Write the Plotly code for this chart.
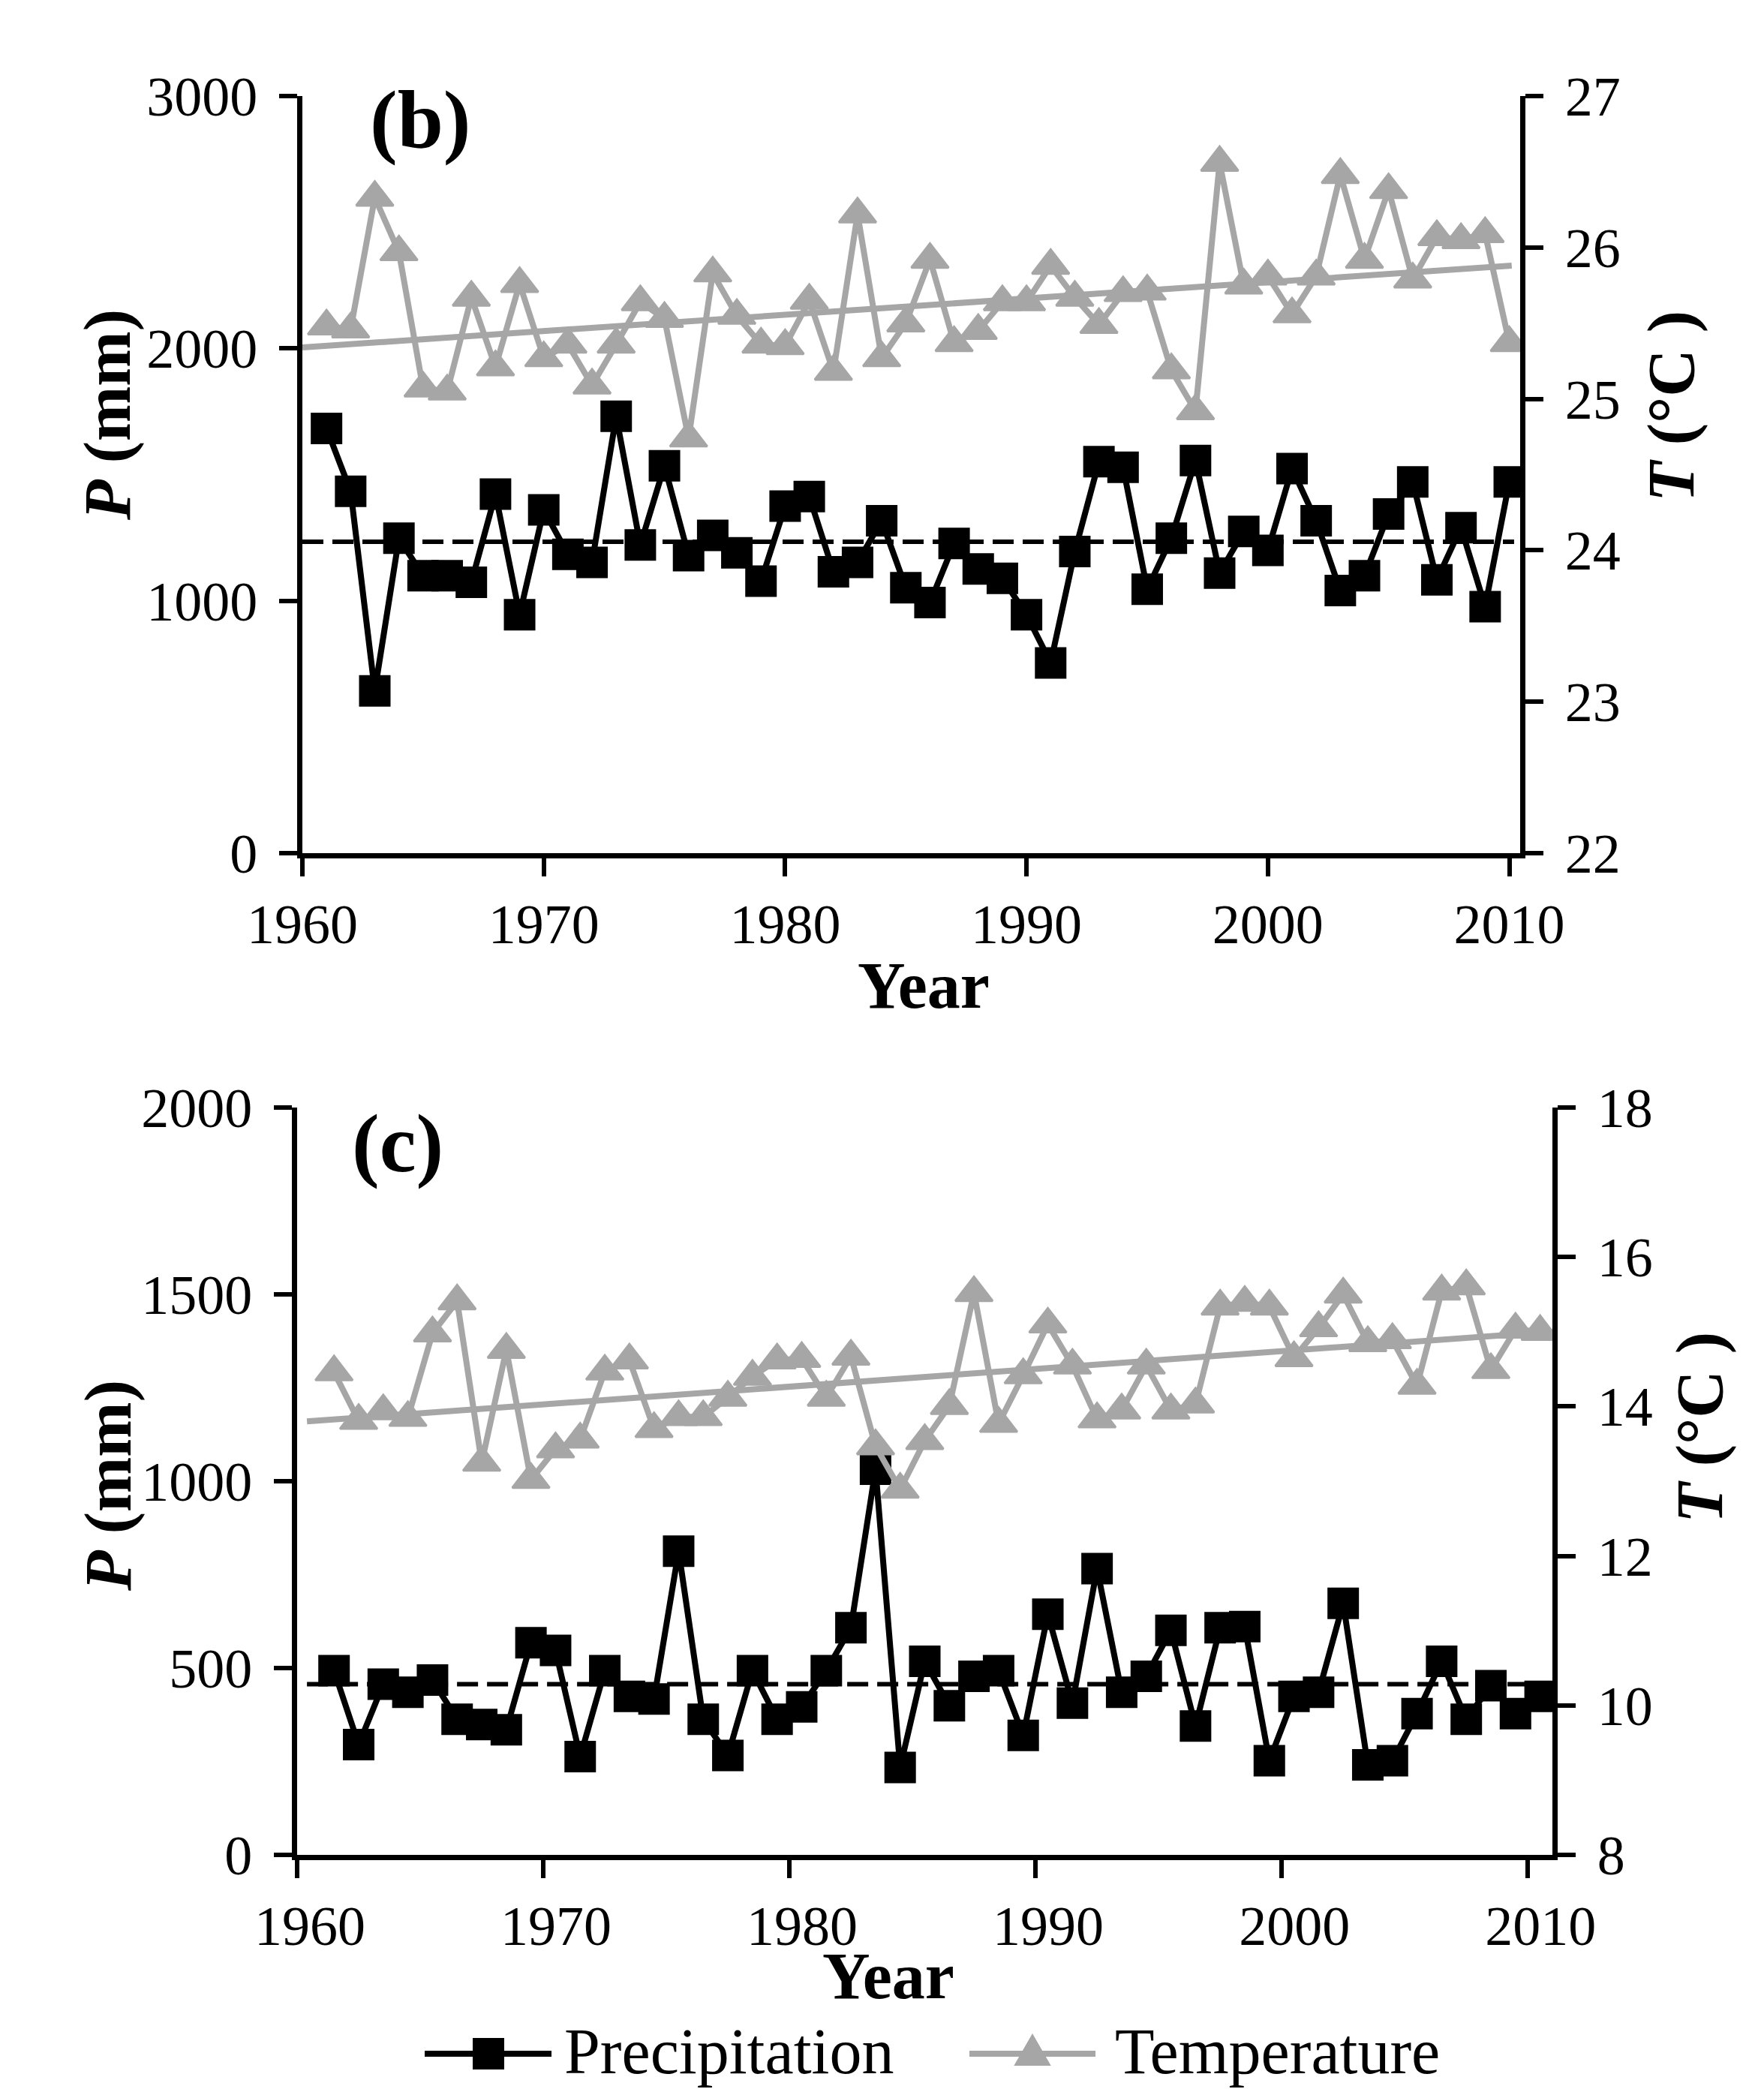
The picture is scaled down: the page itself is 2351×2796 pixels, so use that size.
"""Annual precipitation and temperature, panels (b) and (c)."""

import plotly.graph_objects as go

W, H = 2351, 2796
FONT = "Liberation Serif"
GRAY = "#A6A6A6"

years = list(range(1961, 2011))
tick_years = [1960, 1970, 1980, 1990, 2000, 2010]
tick_text = [str(y) for y in tick_years]

# panel (b)
precip_b = [
    1683, 1434, 643, 1248, 1099, 1099, 1073, 1423, 945, 1360,
    1184, 1152, 1731, 1221, 1535, 1179, 1259, 1190, 1078, 1375,
    1413, 1115, 1152, 1317, 1052, 993, 1227, 1126, 1089, 945,
    754, 1195, 1551, 1529, 1046, 1248, 1556, 1110, 1275, 1200,
    1524, 1317, 1041, 1099, 1344, 1471, 1083, 1290, 977, 1471,
]
temp_b = [
    25.48, 25.46, 26.33, 25.97, 25.07, 25.05, 25.67, 25.21, 25.76, 25.27,
    25.36, 25.09, 25.36, 25.64, 25.53, 24.74, 25.83, 25.55, 25.36, 25.35,
    25.65, 25.18, 26.22, 25.27, 25.50, 25.92, 25.37, 25.45, 25.64, 25.64,
    25.88, 25.67, 25.49, 25.70, 25.71, 25.19, 24.92, 26.56, 25.75, 25.81,
    25.56, 25.81, 26.48, 25.92, 26.38, 25.79, 26.07, 26.05, 26.09, 25.37,
]
mean_b_x = [1960, 2010.2]
mean_b = [1234, 1234]
trend_b_x = [1960, 2010.1]
trend_b = [25.34, 25.88]

# panel (c): points sit half a year right of the labelled ticks
precip_c = [
    493, 295, 457, 435, 468, 363, 349, 335, 568, 547,
    263, 493, 424, 417, 813, 363, 266, 493, 363, 396,
    493, 608, 1032, 234, 518, 399, 478, 493, 320, 644,
    406, 766, 435, 478, 601, 345, 608, 611, 252, 424,
    435, 673, 241, 252, 378, 518, 363, 453, 378, 424,
]
temp_c = [
    14.46, 13.81, 13.94, 13.85, 14.98, 15.41, 13.25, 14.76, 13.02, 13.43,
    13.56, 14.47, 14.62, 13.70, 13.86, 13.86, 14.12, 14.40, 14.62, 14.64,
    14.12, 14.67, 13.47, 12.89, 13.54, 14.01, 15.52, 13.77, 14.42, 15.10,
    14.55, 13.83, 13.95, 14.55, 13.95, 14.03, 15.34, 15.39, 15.34, 14.65,
    15.05, 15.50, 14.85, 14.89, 14.28, 15.54, 15.61, 14.49, 15.03, 15.00,
]
tick_pos_c = [1959.5, 1969.5, 1979.5, 1989.5, 1999.5, 2009.5]
mean_c_x = [1959.9, 2010.5]
mean_c = [457, 457]
trend_c_x = [1959.9, 2010.5]
trend_c = [13.80, 15.00]


def fx(px):
    return px / W


def fy(py):
    return 1 - py / H


fig = go.Figure()

panels = [
    ("x", "y", "y2", precip_b, temp_b, mean_b_x, mean_b, trend_b_x, trend_b),
    ("x2", "y3", "y4", precip_c, temp_c, mean_c_x, mean_c, trend_c_x, trend_c),
]
for xa, ya, ya_t, pr, tp, mx, mv, tx, tv in panels:
    fig.add_trace(go.Scatter(
        x=tx, y=tv, xaxis=xa, yaxis=ya_t, mode="lines",
        line=dict(color=GRAY, width=8), showlegend=False, hoverinfo="skip",
    ))
    fig.add_trace(go.Scatter(
        x=years, y=tp, xaxis=xa, yaxis=ya_t, mode="lines+markers", name="Temperature",
        line=dict(color=GRAY, width=8),
        marker=dict(symbol="triangle-up", size=43, color=GRAY, line=dict(color=GRAY, width=3)),
        showlegend=False,
    ))
    fig.add_trace(go.Scatter(
        x=mx, y=mv, xaxis=xa, yaxis=ya, mode="lines",
        line=dict(color="black", width=6, dash="28px,12px"), showlegend=False, hoverinfo="skip",
    ))
    fig.add_trace(go.Scatter(
        x=years, y=pr, xaxis=xa, yaxis=ya, mode="lines+markers", name="Precipitation",
        line=dict(color="black", width=8),
        marker=dict(symbol="square", size=42, color="black"),
        showlegend=False,
    ))

tick_font = dict(family=FONT, size=74, color="black")
axis_common = dict(
    showline=True, linecolor="black", linewidth=7, ticks="outside", ticklen=24,
    tickwidth=6, tickcolor="black", showgrid=False, zeroline=False, tickfont=tick_font,
)
y_common = dict(ticklabelstandoff=14, **axis_common)
x_common = dict(ticklabelstandoff=0, **axis_common)

annotations = [
    dict(text="<b>(b)</b>", x=fx(552), y=fy(152), size=110),
    dict(text="<b>(c)</b>", x=fx(522), y=fy(1516), size=110),
    dict(text="<b>Year</b>", x=fx(1223), y=fy(1306), size=88),
    dict(text="<b>Year</b>", x=fx(1176), y=fy(2625), size=88),
    dict(text="<b><i>P</i> (mm)</b>", x=fx(136), y=fy(545), size=88, angle=-90),
    dict(text="<b><i>T</i> (°C )</b>", x=fx(2220), y=fy(534), size=88, angle=-90),
    dict(text="<b><i>P</i> (mm)</b>", x=fx(136), y=fy(1972), size=88, angle=-90),
    dict(text="<b><i>T</i> (°C )</b>", x=fx(2258), y=fy(1895), size=88, angle=-90),
    dict(text="Precipitation", x=fx(742), y=fy(2726), size=86, xanchor="left"),
    dict(text="Temperature", x=fx(1476), y=fy(2726), size=86, xanchor="left"),
]

# legend keys
LEG_Y = 2729
shapes = [
    dict(type="line", x0=fx(558), x1=fx(727), y0=fy(LEG_Y), y1=fy(LEG_Y),
         line=dict(color="black", width=8)),
    dict(type="rect", x0=fx(622), x1=fx(664), y0=fy(LEG_Y + 21), y1=fy(LEG_Y - 21),
         fillcolor="black", line=dict(width=0)),
    dict(type="line", x0=fx(1284), x1=fx(1452), y0=fy(LEG_Y), y1=fy(LEG_Y),
         line=dict(color=GRAY, width=8)),
    dict(type="path",
         path=(f"M {fx(1345)},{fy(LEG_Y + 15)} L {fx(1391)},{fy(LEG_Y + 15)} "
               f"L {fx(1368)},{fy(LEG_Y - 25)} Z"),
         fillcolor=GRAY, line=dict(color=GRAY, width=2)),
]
for s in shapes:
    s.update(xref="paper", yref="paper")

fig.update_layout(
    width=W, height=H,
    paper_bgcolor="white", plot_bgcolor="white",
    margin=dict(l=0, r=0, t=0, b=0, autoexpand=False),
    font=dict(family=FONT, color="black"),
    showlegend=False,
    xaxis=dict(domain=[fx(395), fx(2018)], range=[1960, 2010.45], tickvals=tick_years,
               ticktext=tick_text, anchor="y", **x_common),
    yaxis=dict(domain=[fy(1129), fy(120)], range=[0, 3000], dtick=1000, anchor="x", **y_common),
    yaxis2=dict(range=[22, 27], dtick=1, overlaying="y", side="right", anchor="x", **y_common),
    xaxis2=dict(domain=[fx(388), fx(2061)], range=[1959.5, 2010.5], tickvals=tick_pos_c,
                ticktext=tick_text, ticklabelshift=17, anchor="y3", **x_common),
    yaxis3=dict(domain=[fy(2464), fy(1468)], range=[0, 2000], dtick=500, anchor="x2", **y_common),
    yaxis4=dict(range=[8, 18], dtick=2, overlaying="y3", side="right", anchor="x2", **y_common),
    annotations=[
        dict(text=a["text"], x=a["x"], y=a["y"], xref="paper", yref="paper",
             xanchor=a.get("xanchor", "center"), yanchor="middle", showarrow=False,
             textangle=a.get("angle", 0), font=dict(family=FONT, size=a["size"], color="black"))
        for a in annotations
    ],
    shapes=shapes,
)

fig.write_html("out.html")
